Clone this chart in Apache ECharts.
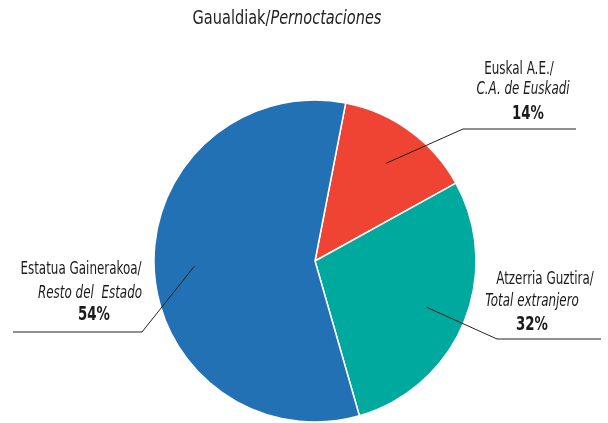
<!DOCTYPE html>
<html>
<head>
<meta charset="utf-8">
<script src="https://cdn.jsdelivr.net/npm/echarts@6/dist/echarts.min.js"></script>
<style>
  html, body { margin: 0; padding: 0; background: #fff; }
  #main { width: 608px; height: 423px; }
</style>
</head>
<body>
<div id="main"></div>
<script>
// zatiak / sectores (orden horario desde arriba)
const names = ['Euskal A.E./', 'Atzerria Guztira/', 'Estatua Gainerakoa/'];
const subNames = ['C.A. de Euskadi', 'Total extranjero', 'Resto del  Estado'];
const shares = [13.9, 28.6, 57.5];        // tamaño de los sectores tal como se dibujan
const shareLabels = ['14%', '32%', '54%']; // porcentajes impresos
const colors = ['#ef4433', '#00a99e', '#2271b4'];

const FONT = '"Liberation Sans Narrow", "DejaVu Sans Condensed", sans-serif';
const SX = 0.78; // letra estrecha

// colocación de las etiquetas (codo de la línea, fin de la línea, textos)
const labelPos = [
  { elbow: [463, 129], end: [576, 129], lines: [[519, 70], [523, 90], [528, 114]] },
  { elbow: [497, 339], end: [601, 339], lines: [[545, 280], [532, 302], [532, 325]] },
  { elbow: [142, 332], end: [13, 332],  lines: [[81, 270], [90, 294], [94, 315]] }
];

let chart = echarts.init(document.getElementById('main'));
chart.setOption({
  animation: false,
  series: [{
    type: 'pie',
    center: [315, 261],
    radius: 161,
    startAngle: 79,
    clockwise: true,
    label: { show: false },
    labelLine: { show: false },
    itemStyle: { borderColor: '#fff', borderWidth: 1.5 },
    emphasis: { disabled: true },
    data: shares.map((v, i) => ({ name: names[i], value: v, itemStyle: { color: colors[i] } }))
  }]
});

// líneas y textos a partir de la disposición de la tarta
let pieData = chart.getModel().getSeriesByIndex(0).getData();
let elements = [{
  type: 'text',
  x: 287, y: 19, scaleX: 0.85,
  style: {
    text: '{a|Gaualdiak/}{b|Pernoctaciones}',
    align: 'center', verticalAlign: 'middle',
    rich: {
      a: { fontFamily: FONT, fontSize: 19, fill: '#222' },
      b: { fontFamily: FONT, fontSize: 19, fill: '#222', fontStyle: 'italic' }
    }
  }
}];
shares.forEach((v, i) => {
  let lay = pieData.getItemLayout(i);
  let mid = (lay.startAngle + lay.endAngle) / 2;
  let r0 = lay.r * 0.75;
  let p0 = [lay.cx + r0 * Math.cos(mid), lay.cy + r0 * Math.sin(mid)];
  let pos = labelPos[i];
  elements.push({
    type: 'polyline',
    shape: { points: [p0, pos.elbow, pos.end] },
    style: { stroke: '#222', lineWidth: 1, fill: null },
    z: 10
  });
  let texts = [names[i], subNames[i], shareLabels[i]];
  texts.forEach((t, k) => {
    elements.push({
      type: 'text',
      x: pos.lines[k][0], y: pos.lines[k][1],
      scaleX: SX,
      style: {
        text: t,
        fontFamily: FONT,
        fontSize: k === 2 ? 19 : 17,
        fontStyle: k === 1 ? 'italic' : 'normal',
        fontWeight: k === 2 ? 'bold' : 'normal',
        fill: '#1a1a1a',
        align: 'center',
        verticalAlign: 'middle'
      },
      z: 10
    });
  });
});
chart.setOption({ graphic: elements });
</script>
</body>
</html>
